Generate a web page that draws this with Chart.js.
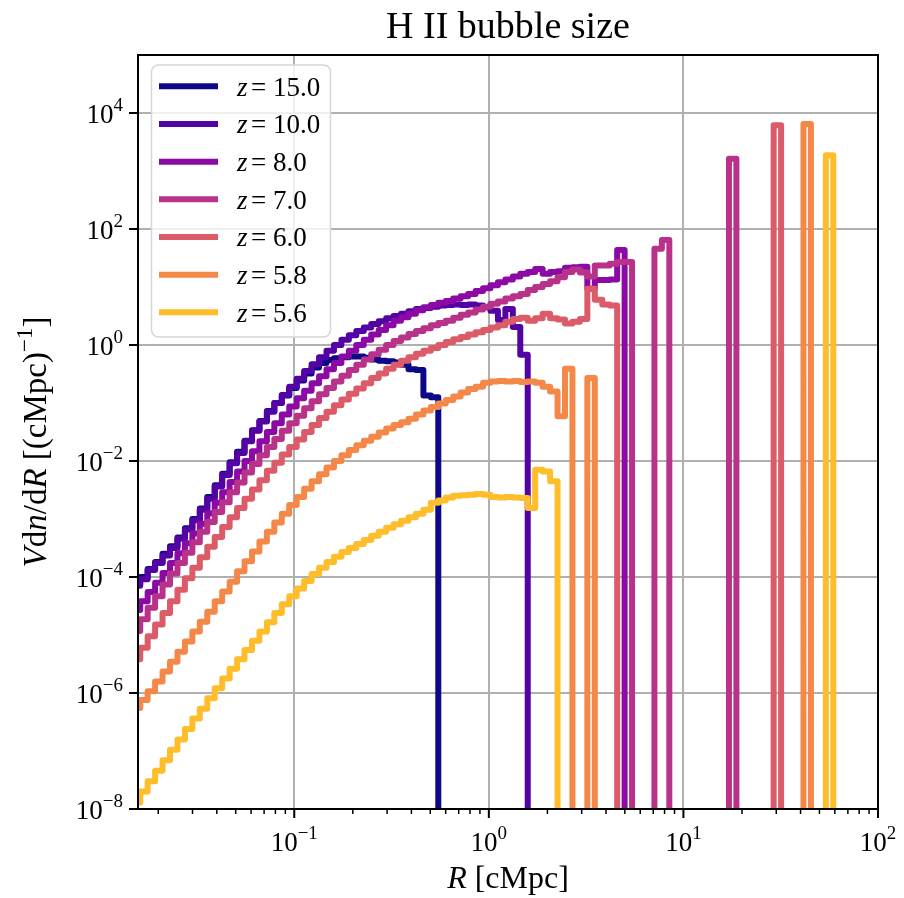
<!DOCTYPE html>
<html>
<head>
<meta charset="utf-8">
<script src="https://cdn.jsdelivr.net/npm/chart.js@4/dist/chart.umd.min.js"></script>
<style>
  html, body { margin: 0; padding: 0; background: #fff; }
  #wrap { width: 904px; height: 898px; }
</style>
</head>
<body>
<div id="wrap"><canvas id="chart" width="904" height="898"></canvas></div>
<script>
// histogram bins: 100 log-spaced bins in R [cMpc]
const LOG_R_MIN = -1.83;
const LOG_R_MAX = 2.0;
const N_BINS = 100;

const redshifts = ["15.0", "10.0", "8.0", "7.0", "6.0", "5.8", "5.6"];
const colors = ["#0d0887", "#5302a3", "#8b0aa5", "#b83289", "#db5c68", "#f48849", "#febd2a"];

// log10(V dn/dR) per bin, null = empty bin
const logZ15 = [-4.12,-4.00,-3.86,-3.74,-3.60,-3.47,-3.32,-3.16,-3.00,-2.82,
  -2.62,-2.42,-2.22,-2.02,-1.84,-1.65,-1.47,-1.31,-1.14,-1.00,
  -0.87,-0.74,-0.61,-0.49,-0.39,-0.31,-0.26,-0.23,-0.21,-0.20,
  -0.20,-0.22,-0.25,-0.27,-0.28,-0.30,-0.34,-0.42,-0.43,-0.87,
  -0.90];
const logZ10 = [-4.15,-4.04,-3.88,-3.76,-3.63,-3.50,-3.34,-3.18,-3.02,-2.84,
  -2.65,-2.44,-2.24,-2.04,-1.86,-1.66,-1.48,-1.32,-1.15,-1.00,
  -0.86,-0.72,-0.58,-0.45,-0.33,-0.21,-0.10,0.00,0.09,0.17,
  0.24,0.30,0.36,0.41,0.46,0.50,0.54,0.58,0.62,0.64,
  0.66,0.68,0.69,0.70,0.69,0.70,0.68,0.65,0.59,0.43,
  0.62,0.31,-0.17];
const logZ8 = [-4.57,-4.42,-4.26,-4.10,-3.93,-3.76,-3.59,-3.42,-3.25,-3.08,
  -2.90,-2.72,-2.54,-2.36,-2.18,-2.00,-1.83,-1.66,-1.50,-1.35,
  -1.20,-1.06,-0.92,-0.79,-0.66,-0.54,-0.42,-0.31,-0.20,-0.10,
  0.00,0.09,0.18,0.26,0.34,0.42,0.48,0.54,0.60,0.65,
  0.69,0.73,0.76,0.80,0.84,0.88,0.93,0.98,1.03,1.08,
  1.13,1.18,1.23,1.26,1.31,1.23,1.26,1.27,1.33,1.34,
  1.35,0.97,1.12,1.12,1.13,1.64];
const logZ7 = [-4.93,-4.73,-4.53,-4.33,-4.13,-3.94,-3.76,-3.58,-3.40,-3.22,
  -3.05,-2.88,-2.71,-2.54,-2.37,-2.20,-2.05,-1.90,-1.76,-1.62,
  -1.48,-1.35,-1.22,-1.09,-0.97,-0.85,-0.74,-0.63,-0.53,-0.43,
  -0.34,-0.25,-0.16,-0.08,0.00,0.07,0.13,0.19,0.24,0.29,
  0.34,0.38,0.42,0.47,0.52,0.56,0.61,0.66,0.71,0.75,
  0.80,0.84,0.88,0.95,1.00,1.05,1.10,1.17,1.26,1.30,
  1.25,1.18,1.37,1.37,1.40,1.43,1.43,null,null,null,
  1.66,1.81,null,null,null,null,null,null,null,null,
  3.21];
const logZ6 = [-5.42,-5.22,-5.02,-4.82,-4.62,-4.42,-4.22,-4.02,-3.84,-3.66,
  -3.48,-3.31,-3.14,-2.97,-2.81,-2.65,-2.49,-2.33,-2.17,-2.03,
  -1.89,-1.76,-1.63,-1.50,-1.38,-1.26,-1.15,-1.04,-0.94,-0.84,
  -0.75,-0.66,-0.57,-0.49,-0.41,-0.34,-0.27,-0.21,-0.15,-0.10,
  -0.05,0.00,0.05,0.10,0.14,0.18,0.22,0.26,0.30,0.34,
  0.40,0.45,0.47,0.42,0.46,0.54,0.46,0.44,0.37,0.40,
  0.45,0.97,0.78,0.70,0.68,null,null,null,null,null,
  null,null,null,null,null,null,null,null,null,null,
  null,null,null,null,null,null,3.79];
const logZ58 = [-6.26,-6.12,-5.97,-5.80,-5.63,-5.46,-5.29,-5.11,-4.94,-4.77,
  -4.60,-4.42,-4.25,-4.08,-3.90,-3.73,-3.56,-3.39,-3.22,-3.06,
  -2.91,-2.76,-2.62,-2.48,-2.35,-2.23,-2.11,-2.00,-1.90,-1.81,
  -1.73,-1.65,-1.58,-1.51,-1.44,-1.38,-1.33,-1.27,-1.20,-1.13,
  -1.07,-1.01,-0.95,-0.89,-0.82,-0.76,-0.72,-0.65,-0.63,-0.62,
  -0.63,-0.62,-0.64,-0.63,-0.65,-0.72,-0.80,-1.23,-0.41,null,
  null,-0.57,null,null,null,null,null,null,null,null,
  null,null,null,null,null,null,null,null,null,null,
  null,null,null,null,null,null,null,null,null,null,
  3.81];
const logZ56 = [-7.89,-7.70,-7.52,-7.34,-7.16,-6.98,-6.80,-6.62,-6.44,-6.27,
  -6.09,-5.92,-5.75,-5.58,-5.42,-5.26,-5.10,-4.94,-4.78,-4.62,
  -4.47,-4.33,-4.20,-4.07,-3.95,-3.84,-3.74,-3.65,-3.57,-3.50,
  -3.43,-3.36,-3.29,-3.22,-3.15,-3.09,-3.03,-2.97,-2.91,-2.84,
  -2.72,-2.68,-2.63,-2.60,-2.59,-2.58,-2.57,-2.58,-2.62,-2.63,
  -2.62,-2.63,-2.64,-2.81,-2.15,-2.18,-2.35,null,null,null,
  null,null,null,null,null,null,null,null,null,null,
  null,null,null,null,null,null,null,null,null,null,
  null,null,null,null,null,null,null,null,null,null,
  null,null,null,3.27];

const seriesLog = [logZ15, logZ10, logZ8, logZ7, logZ6, logZ58, logZ56];

const xTickExps = [-1, 0, 1, 2];
const yTickExps = [-8, -6, -4, -2, 0, 2, 4];

const X_MIN = Math.pow(10, -1.803);
const X_MAX = 100;
const Y_MIN = 1e-8;
const Y_MAX = 1e5;
const FLOOR = 1e-14; // empty bins drop below the axis

const FONT = "'Liberation Serif', 'DejaVu Serif', serif";

const edges = [];
for (let i = 0; i <= N_BINS; i++) {
  edges.push(Math.pow(10, LOG_R_MIN + (LOG_R_MAX - LOG_R_MIN) * i / N_BINS));
}

function stepPoints(logs) {
  const pts = [];
  for (let i = 0; i < N_BINS; i++) {
    const v = logs[i];
    pts.push({ x: edges[i], y: v == null ? FLOOR : Math.pow(10, v) });
  }
  pts.push({ x: edges[N_BINS], y: FLOOR });
  return pts;
}

const datasets = seriesLog.map((logs, i) => ({
  label: "z = " + redshifts[i],
  data: stepPoints(logs),
  borderColor: colors[i],
  backgroundColor: colors[i],
  borderWidth: 6,
  borderJoinStyle: "round",
  pointRadius: 0,
  stepped: "before",
  fill: false,
  order: seriesLog.length - i,
}));

function drawRuns(ctx, x, y, runs) {
  let cx = x;
  runs.forEach((r) => {
    ctx.font = r.font;
    ctx.fillText(r.text, cx, y + (r.dy || 0));
    cx += ctx.measureText(r.text).width;
  });
  return cx;
}

function runsWidth(ctx, runs) {
  let w = 0;
  runs.forEach((r) => { ctx.font = r.font; w += ctx.measureText(r.text).width; });
  return w;
}

function powRuns(exp) {
  return [
    { text: "10", font: "27px " + FONT },
    { text: String(exp).replace("-", "\u2212"), font: "19px " + FONT, dy: -12 },
  ];
}

const decorations = {
  id: "decorations",
  afterDatasetsDraw(chart) {
    const { ctx, chartArea: a, scales } = chart;
    const x = scales.x, y = scales.y;
    ctx.save();
    ctx.fillStyle = "#000";
    ctx.strokeStyle = "#000";
    ctx.textBaseline = "alphabetic";
    ctx.textAlign = "left";

    // legend
    const bx = a.left + 13.5, by = a.top + 10, bw = 179, bh = 272, r = 7;
    ctx.beginPath();
    ctx.moveTo(bx + r, by);
    ctx.arcTo(bx + bw, by, bx + bw, by + bh, r);
    ctx.arcTo(bx + bw, by + bh, bx, by + bh, r);
    ctx.arcTo(bx, by + bh, bx, by, r);
    ctx.arcTo(bx, by, bx + bw, by, r);
    ctx.closePath();
    ctx.fillStyle = "rgba(255,255,255,0.8)";
    ctx.fill();
    ctx.lineWidth = 1.5;
    ctx.strokeStyle = "#d6d6d6";
    ctx.stroke();
    redshifts.forEach((z, i) => {
      const ry = a.top + 31.3 + i * 37.67;
      ctx.strokeStyle = colors[i];
      ctx.lineWidth = 6;
      ctx.beginPath();
      ctx.moveTo(a.left + 21, ry);
      ctx.lineTo(a.left + 80, ry);
      ctx.stroke();
      ctx.fillStyle = "#000";
      const lx = a.left + 99;
      ctx.font = "italic 27px " + FONT;
      ctx.fillText("z", lx, ry + 9.5);
      ctx.font = "27px " + FONT;
      ctx.fillText("=", lx + 14, ry + 9.5);
      ctx.fillText(z, lx + 36, ry + 9.5);
    });

    // spines
    ctx.strokeStyle = "#000";
    ctx.lineWidth = 2;
    ctx.strokeRect(a.left, a.top, a.right - a.left, a.bottom - a.top);

    // x ticks
    ctx.fillStyle = "#000";
    xTickExps.forEach((e) => {
      const px = x.getPixelForValue(Math.pow(10, e));
      ctx.lineWidth = 2;
      ctx.beginPath();
      ctx.moveTo(px, a.bottom);
      ctx.lineTo(px, a.bottom + 9);
      ctx.stroke();
      const runs = powRuns(e);
      drawRuns(ctx, px - runsWidth(ctx, runs) / 2, a.bottom + 42, runs);
    });
    for (let e = -2; e < 2; e++) {
      for (let m = 2; m <= 9; m++) {
        const v = m * Math.pow(10, e);
        if (v < X_MIN || v > X_MAX) continue;
        const px = x.getPixelForValue(v);
        ctx.lineWidth = 1.5;
        ctx.beginPath();
        ctx.moveTo(px, a.bottom);
        ctx.lineTo(px, a.bottom + 5);
        ctx.stroke();
      }
    }

    // y ticks
    yTickExps.forEach((e) => {
      const py = y.getPixelForValue(Math.pow(10, e));
      ctx.lineWidth = 2;
      ctx.beginPath();
      ctx.moveTo(a.left - 9, py);
      ctx.lineTo(a.left, py);
      ctx.stroke();
      const runs = powRuns(e);
      drawRuns(ctx, a.left - 15 - runsWidth(ctx, runs), py + 10, runs);
    });

    // title
    const cx = (a.left + a.right) / 2;
    ctx.font = "38px " + FONT;
    ctx.textAlign = "center";
    ctx.fillText("H II bubble size", cx, 38);
    ctx.textAlign = "left";

    // x label
    const xl = [
      { text: "R", font: "italic 32px " + FONT },
      { text: " [cMpc]", font: "32px " + FONT },
    ];
    drawRuns(ctx, cx - runsWidth(ctx, xl) / 2, 888, xl);

    // y label
    const yl = [
      { text: "V", font: "italic 33px " + FONT },
      { text: "d", font: "33px " + FONT },
      { text: "n", font: "italic 33px " + FONT },
      { text: "/d", font: "33px " + FONT },
      { text: "R", font: "italic 33px " + FONT },
      { text: " [(cMpc)", font: "33px " + FONT },
      { text: "\u22121", font: "23px " + FONT, dy: -14 },
      { text: "]", font: "33px " + FONT },
    ];
    ctx.translate(46, (a.top + a.bottom) / 2 + 10);
    ctx.rotate(-Math.PI / 2);
    drawRuns(ctx, -runsWidth(ctx, yl) / 2, 0, yl);
    ctx.restore();
  },
};

new Chart(document.getElementById("chart"), {
  type: "line",
  data: { datasets },
  options: {
    responsive: false,
    animation: false,
    devicePixelRatio: 1,
    layout: { padding: { left: 138, right: 26, top: 55, bottom: 89 } },
    plugins: { legend: { display: false }, tooltip: { enabled: false } },
    scales: {
      x: {
        type: "logarithmic",
        min: X_MIN,
        max: X_MAX,
        afterBuildTicks: (scale) => {
          scale.ticks = xTickExps.map((e) => ({ value: Math.pow(10, e) }));
        },
        ticks: { display: false },
        grid: { color: "#b0b0b0", lineWidth: 2, drawTicks: false },
        border: { display: false },
      },
      y: {
        type: "logarithmic",
        min: Y_MIN,
        max: Y_MAX,
        afterBuildTicks: (scale) => {
          scale.ticks = yTickExps.map((e) => ({ value: Math.pow(10, e) }));
        },
        ticks: { display: false },
        grid: { color: "#b0b0b0", lineWidth: 2, drawTicks: false },
        border: { display: false },
      },
    },
  },
  plugins: [decorations],
});
</script>
</body>
</html>
